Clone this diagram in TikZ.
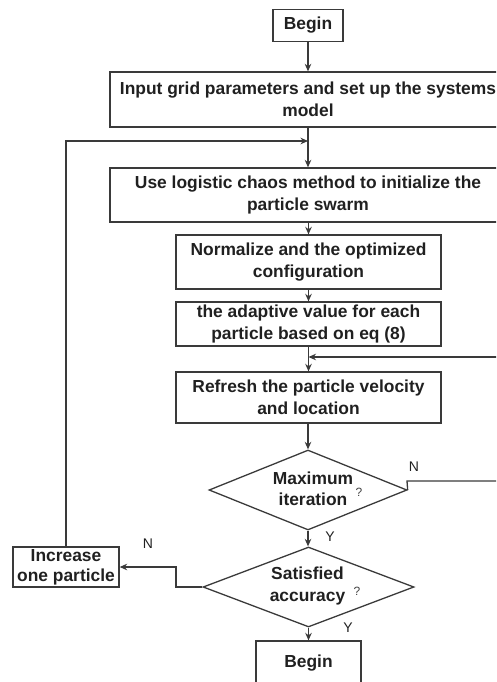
\documentclass[tikz,border=0pt]{standalone}
\usepackage{fontspec}
\setmainfont{Liberation Sans}
\usetikzlibrary{shapes.geometric,arrows.meta}
\definecolor{ln}{HTML}{3A3A3A}
\definecolor{tx}{HTML}{202020}
\begin{document}
\begin{tikzpicture}[x=1pt,y=-1pt,
  box/.style={draw=ln,line width=1.3pt,rectangle,inner sep=0pt,text=tx,align=center,
    font=\fontsize{17.4}{21.5}\selectfont\bfseries},
  dia/.style={draw=ln,line width=1.3pt,diamond,inner sep=0pt},
  dtext/.style={text=tx,align=center,inner sep=0pt,font=\fontsize{17.4}{21.5}\selectfont\bfseries},
  qm/.style={text=tx!85,inner sep=0pt,font=\fontsize{12}{12}\selectfont},
  yn/.style={text=tx,inner sep=0pt,font=\fontsize{14}{14}\selectfont},
  flow/.style={draw=ln,line width=1.3pt,-{Stealth[length=7.5pt,width=6.5pt]}},
  plain/.style={draw=ln,line width=1.3pt}]
\useasboundingbox (0,0) rectangle (496,682);
\clip (0,0) rectangle (496,682);
\node[box,minimum width=70,minimum height=32] (b0) at (308,25.5) {Begin};
\node[box,minimum width=396,minimum height=55] (inp) at (308,99.5) {Input grid parameters and set up the systems\\model};
\node[box,minimum width=396,minimum height=54] (log) at (308,195) {Use logistic chaos method to initialize the\\particle swarm};
\node[box,minimum width=265,minimum height=54] (nor) at (308.5,262) {Normalize and the optimized\\configuration};
\node[box,minimum width=265,minimum height=44] (ada) at (308.5,324) {the adaptive value for each\\particle based on eq (8)};
\node[box,minimum width=265,minimum height=51] (ref) at (308.5,397.5) {Refresh the particle velocity\\and location};
\node[dia,minimum width=198,minimum height=80] (mx) at (308,490) {};
\node[dtext] (mxt) at (313,489) {Maximum\\iteration};
\node[qm] (mxq) at (359,492) {?};
\node[dia,minimum width=211,minimum height=80] (sa) at (308.5,587) {};
\node[dtext] (sat) at (307.5,586) {Satisfied\\accuracy};
\node[qm] (saq) at (357,591) {?};
\node[box,minimum width=106,minimum height=40,
  font=\fontsize{17.4}{20}\selectfont\bfseries] (inc) at (66,567) {Increase\\one particle};
\node[box,minimum width=105,minimum height=44] (b1) at (308.5,663) {Begin};
\node[yn] (n1) at (414,467) {N};
\node[yn] (y1) at (330,537) {Y};
\node[yn] (n2) at (148,544) {N};
\node[yn] (y2) at (348,628) {Y};
\coordinate (j1) at (308,141);
\coordinate (j2) at (308.5,357);
\draw[flow] (b0.south) -- (inp.north);
\draw[flow] (inp.south) -- (log.north);
\draw[flow] (inc.north) -- (66,141) -- (j1);
\draw[flow] (log.south -| nor.north) -- (nor.north);
\draw[flow] (nor.south) -- (ada.north);
\draw[flow] (ada.south) -- (ref.north);
\draw[flow] (510,481) -- (510,357) -- (j2);
\draw[plain] (mx.east) -- (407,481) -- (510,481);
\draw[flow] (ref.south -| mx.north) -- (mx.north);
\draw[flow] (mx.south) -- (sa.north -| mx.south);
\draw[flow] (sa.west) -- (176,587) -- (176,567) -- (inc.east);
\draw[flow] (sa.south) -- (b1.north);
\end{tikzpicture}
\end{document}
